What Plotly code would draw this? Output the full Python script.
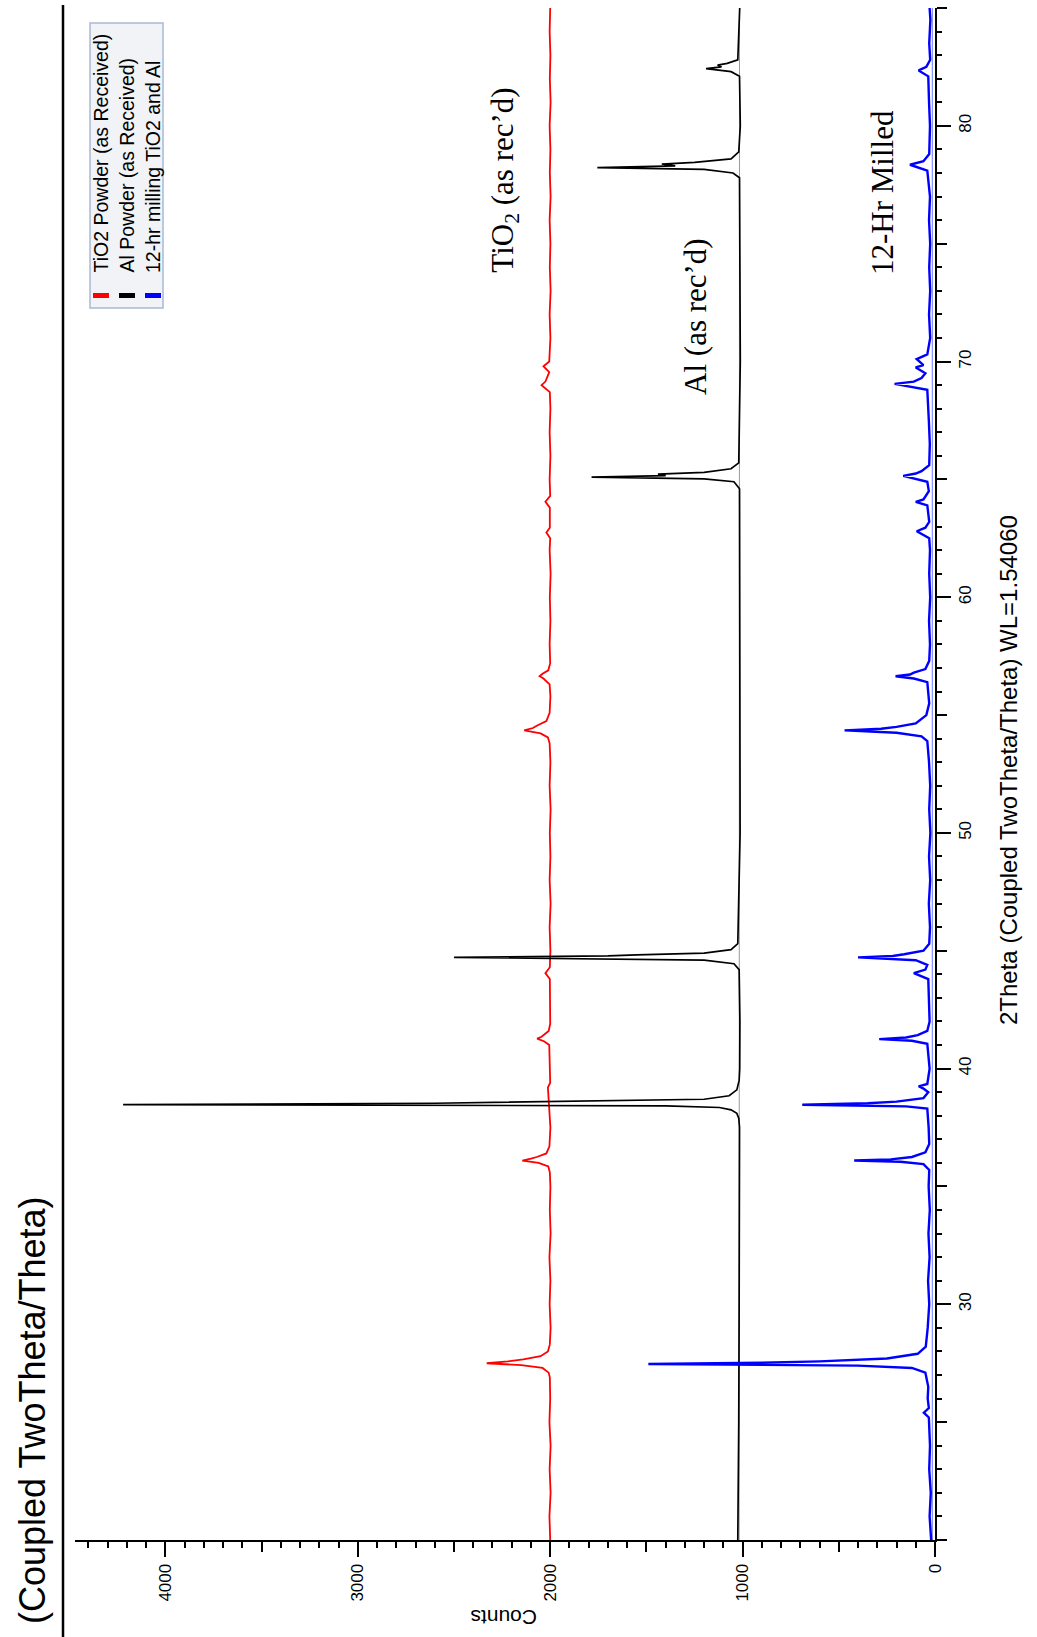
import plotly.graph_objects as go

# ---- axis ticks -------------------------------------------------------------
count_ticks = [0, 1000, 2000, 3000, 4000]
two_theta_ticks = [30, 40, 50, 60, 70, 80]

# ---- diffraction traces as (2theta, counts) vertices ------------------------
tio2_trace = [
    (20.0, 2000), (21.0, 2004), (22.0, 1998), (23.0, 2003), (24.0, 1998),
    (25.0, 2004), (26.0, 2000), (26.9, 2002),
    (27.1, 2008), (27.3, 2040), (27.42, 2150), (27.5, 2330), (27.58, 2220),
    (27.66, 2140), (27.8, 2050), (28.0, 2012), (28.3, 2002),
    (29.0, 1998), (30.0, 2003), (31.0, 1999), (32.0, 2004), (33.0, 1998),
    (34.0, 2002), (35.0, 1999), (35.6, 2002),
    (35.85, 2010), (36.0, 2060), (36.1, 2145), (36.18, 2100), (36.25, 2070),
    (36.4, 2020), (36.7, 2004), (37.5, 1999), (38.0, 2003), (39.2, 2012),
    (39.4, 2000), (40.2, 2003),
    (41.0, 2005), (41.15, 2030), (41.27, 2068), (41.35, 2045), (41.45, 2030),
    (41.6, 2008), (41.9, 2000), (43.0, 2003), (43.8, 2002), (44.05, 2025),
    (44.3, 2002), (45.0, 1999), (46.0, 2003), (47.0, 1998), (48.0, 2003),
    (49.0, 1999), (50.0, 2002), (51.0, 1998), (52.0, 2003), (53.0, 1999),
    (53.8, 2003),
    (54.05, 2012), (54.22, 2050), (54.35, 2135), (54.45, 2090), (54.55, 2070),
    (54.75, 2020), (55.1, 2003), (55.8, 1999), (56.3, 2003), (56.55, 2035),
    (56.65, 2055), (56.75, 2040), (56.9, 2010), (57.2, 2000), (58.0, 2003),
    (59.0, 1999), (60.0, 2002), (61.0, 1998), (62.0, 2003), (62.5, 2000),
    (62.75, 2020), (62.95, 2002), (63.8, 2002), (64.05, 2025), (64.3, 2000),
    (65.0, 2003), (66.0, 1999), (67.0, 2003), (68.0, 1999), (68.7, 2002),
    (69.0, 2045), (69.15, 2025), (69.35, 2015),
    (69.55, 2005), (69.8, 2035), (70.0, 2005), (71.0, 1999), (72.0, 2003),
    (73.0, 1998), (74.0, 2002), (75.0, 1999), (76.0, 2003), (77.0, 1998),
    (78.0, 2002), (79.0, 1999), (80.0, 2003), (81.0, 1998), (82.0, 2002),
    (83.0, 1999), (84.0, 2003), (85.0, 2000),
]

al_trace = [
    (20.0, 1025), (22.0, 1022), (25.0, 1020), (30.0, 1018), (35.0, 1015),
    (37.5, 1016), (37.9, 1020), (38.1, 1030), (38.25, 1060), (38.35, 1120),
    (38.42, 1400), (38.47, 4220),
    (38.53, 2600), (38.57, 2300), (38.62, 1700), (38.7, 1200), (38.85, 1070),
    (39.1, 1030), (39.5, 1018), (40.0, 1015), (42.0, 1014), (44.2, 1018),
    (44.45, 1045), (44.6, 1200), (44.72, 2500), (44.78, 1700), (44.83, 1550),
    (44.9, 1200), (45.05, 1060), (45.3, 1025), (50.0, 1013), (55.0, 1014),
    (60.0, 1012), (64.6, 1016), (64.9, 1045), (65.02, 1200), (65.1, 1785),
    (65.16, 1400), (65.22, 1440), (65.3, 1200), (65.45, 1060), (65.7, 1020),
    (70.0, 1012), (75.0, 1013), (77.8, 1016), (78.0, 1050), (78.15, 1200),
    (78.23, 1755), (78.3, 1350), (78.38, 1420), (78.45, 1250), (78.6, 1060),
    (78.9, 1020), (80.0, 1012), (82.1, 1016), (82.3, 1060), (82.43, 1190),
    (82.5, 1110), (82.58, 1130), (82.65, 1080), (82.8, 1025), (85.0, 1015),
]

milled_trace = [
    (20.0, 20), (21.0, 28), (22.0, 22), (23.0, 30), (24.0, 26), (25.2, 32),
    (25.4, 58), (25.6, 32), (26.0, 38), (26.5, 35), (27.1, 50), (27.3, 120),
    (27.4, 400), (27.47, 1490),
    (27.52, 900), (27.58, 600), (27.7, 250), (27.9, 90), (28.2, 48),
    (29.0, 38), (30.0, 30), (31.0, 36), (32.0, 28), (33.0, 34), (34.0, 27),
    (35.0, 33), (35.7, 30),
    (35.95, 60), (36.05, 180), (36.1, 420), (36.15, 230), (36.25, 120),
    (36.45, 50), (36.8, 30), (37.5, 33), (38.3, 40), (38.4, 150), (38.47, 690),
    (38.53, 350), (38.6, 200), (38.75, 60), (39.0, 35), (39.15, 60),
    (39.25, 85), (39.35, 40), (40.0, 28), (41.05, 40), (41.18, 120),
    (41.25, 290), (41.32, 150), (41.42, 90), (41.6, 40), (42.0, 28),
    (43.0, 33), (43.8, 35), (44.05, 110), (44.2, 50), (44.4, 40), (44.6, 100),
    (44.72, 400), (44.78, 220), (44.85, 160), (45.0, 60), (45.3, 30),
    (46.0, 26), (47.0, 32), (48.0, 25), (49.0, 31), (50.0, 24), (51.0, 30),
    (52.0, 25), (53.0, 31), (53.9, 40), (54.1, 70), (54.25, 200),
    (54.35, 470), (54.42, 280), (54.5, 200), (54.65, 100), (55.0, 45),
    (55.5, 30), (56.4, 40), (56.55, 110), (56.65, 205), (56.72, 130),
    (56.8, 110), (56.95, 50), (57.3, 30), (58.0, 26), (59.0, 31), (60.0, 25),
    (61.0, 30), (62.0, 26), (62.5, 30),
    (62.8, 95), (62.95, 50), (63.2, 30), (63.9, 40), (64.05, 100),
    (64.15, 60), (64.5, 32), (64.9, 40), (65.15, 165), (65.25, 100),
    (65.35, 70), (65.6, 30), (66.5, 27), (67.5, 32), (68.8, 40), (69.05, 210),
    (69.15, 110), (69.3, 70), (69.5, 50), (69.75, 100), (69.85, 60),
    (70.1, 95), (70.3, 40), (71.0, 25), (72.0, 31), (73.0, 25), (74.0, 30),
    (75.0, 25), (76.0, 31), (77.0, 26), (78.1, 40), (78.35, 130),
    (78.5, 60), (78.8, 30), (80.0, 26), (81.0, 31), (82.1, 35), (82.35, 85),
    (82.5, 45), (82.8, 25), (83.5, 30), (84.5, 24), (85.0, 28),
]

# fitted backgrounds drawn under the Al and milled patterns
al_background = [(20.0, 1018), (85.0, 1016)]
milled_background = [(20.0, 14), (85.0, 14)]

legend_labels = [
    "TiO2 Powder (as Received)",
    "Al Powder (as Received)",
    "12-hr milling TiO2 and Al",
]
series_colors = ["#ff0000", "#000000", "#0000ff"]

SANS = "Liberation Sans, Arial, sans-serif"
SERIF = "Liberation Serif, Times New Roman, serif"

# plot-area geometry (pixels)
W, H = 1037, 1637
L, R, T, B = 75, 102, 8, 97
PW, PH = W - L - R, H - T - B


def px(xp):
    return (xp - L) / PW


def py(yp):
    return (H - B - yp) / PH


def split(trace):
    return [c for _, c in trace], [t for t, _ in trace]


fig = go.Figure()

for bg, col in ((al_background, "#9a9a9a"), (milled_background, "#6f7dff")):
    xs, ys = split(bg)
    fig.add_trace(go.Scatter(x=xs, y=ys, mode="lines",
                             line=dict(color=col, width=1), hoverinfo="skip"))

for trace, col, w in ((tio2_trace, series_colors[0], 1.8),
                      (al_trace, series_colors[1], 1.7),
                      (milled_trace, series_colors[2], 2.4)):
    xs, ys = split(trace)
    fig.add_trace(go.Scatter(x=xs, y=ys, mode="lines",
                             line=dict(color=col, width=w)))

# carrier for the labelled overlay axes
fig.add_trace(go.Scatter(x=[0], y=[20], xaxis="x2", yaxis="y2", mode="markers",
                         marker=dict(opacity=0), hoverinfo="skip"))

x_range = [4470, 0]
y_range = [20, 85]

fig.update_layout(
    width=W, height=H,
    margin=dict(l=L, r=R, t=T, b=B),
    paper_bgcolor="white", plot_bgcolor="white",
    showlegend=False,
    xaxis=dict(range=x_range, showline=True, linecolor="black", linewidth=2,
               ticks="outside", tickvals=list(range(0, 4500, 500)),
               ticklen=10, tickwidth=2, tickcolor="black",
               showticklabels=False, showgrid=False, zeroline=False,
               minor=dict(tickvals=list(range(0, 4500, 100)), ticklen=6,
                          tickwidth=1.5, tickcolor="black", ticks="outside")),
    xaxis2=dict(range=x_range, overlaying="x", anchor="y", side="bottom",
                showline=False, ticks="outside", tickvals=count_ticks,
                ticklen=16, tickwidth=2, tickcolor="black", tickangle=-90,
                tickfont=dict(family=SANS, size=17, color="black"),
                showgrid=False, zeroline=False),
    yaxis=dict(range=y_range, side="right", showline=True, linecolor="black",
               linewidth=2, ticks="outside", tickvals=list(range(20, 86, 5)),
               ticklen=10, tickwidth=2, tickcolor="black",
               showticklabels=False, showgrid=False, zeroline=False,
               minor=dict(tickvals=list(range(20, 86, 1)), ticklen=5,
                          tickwidth=1.5, tickcolor="black", ticks="outside")),
    yaxis2=dict(range=y_range, overlaying="y", anchor="x", side="right",
                showline=False, ticks="outside", tickvals=two_theta_ticks,
                ticklen=15, tickwidth=2, tickcolor="black", tickangle=-90,
                tickfont=dict(family=SANS, size=17, color="black"),
                showgrid=False, zeroline=False),
)

shapes = [
    # separator beside the page title
    dict(type="line", xref="paper", yref="paper", x0=px(63), x1=px(63),
         y0=py(5), y1=py(H), line=dict(color="black", width=2.5)),
    # legend frame
    dict(type="rect", xref="paper", yref="paper", x0=px(90), x1=px(163),
         y0=py(308), y1=py(23), fillcolor="#f1f3f6",
         line=dict(color="#a9b9d3", width=1.5), layer="above"),
]
legend_cols = [101, 127, 153]
for xc, col in zip(legend_cols, series_colors):
    shapes.append(dict(type="rect", xref="paper", yref="paper",
                       x0=px(xc - 8), x1=px(xc + 8), y0=py(298), y1=py(293),
                       fillcolor=col, line=dict(width=0), layer="above"))
fig.update_layout(shapes=shapes)

annotations = [
    dict(text="(Coupled TwoTheta/Theta)", x=px(32), y=py(1410), textangle=-90,
         font=dict(family=SANS, size=36, color="black")),
    dict(text="Counts", x=px(504), y=py(1618), textangle=180,
         font=dict(family=SANS, size=21, color="black")),
    dict(text="2Theta (Coupled TwoTheta/Theta) WL=1.54060", x=px(1008),
         y=py(770), textangle=-90,
         font=dict(family=SANS, size=24, color="black")),
]
for xc, label in zip(legend_cols, legend_labels):
    annotations.append(dict(text=label, x=px(xc), y=py(275), textangle=-90,
                            yanchor="bottom",
                            font=dict(family=SANS, size=19.5, color="black")))
for x, y, label in ((2237, 77.7, "TiO<sub>2</sub> (as rec’d)"),
                    (1248, 71.93, "Al (as rec’d)"),
                    (276, 77.19, "12-Hr Milled")):
    annotations.append(dict(text=label, x=x, y=y, xref="x", yref="y",
                            textangle=-90,
                            font=dict(family=SERIF, size=31, color="black")))
for a in annotations:
    a.setdefault("xref", "paper")
    a.setdefault("yref", "paper")
    a.setdefault("showarrow", False)
    a.setdefault("xanchor", "center")
    a.setdefault("yanchor", "middle")
fig.update_layout(annotations=annotations)

fig.write_html("out.html", config={"displayModeBar": False})
